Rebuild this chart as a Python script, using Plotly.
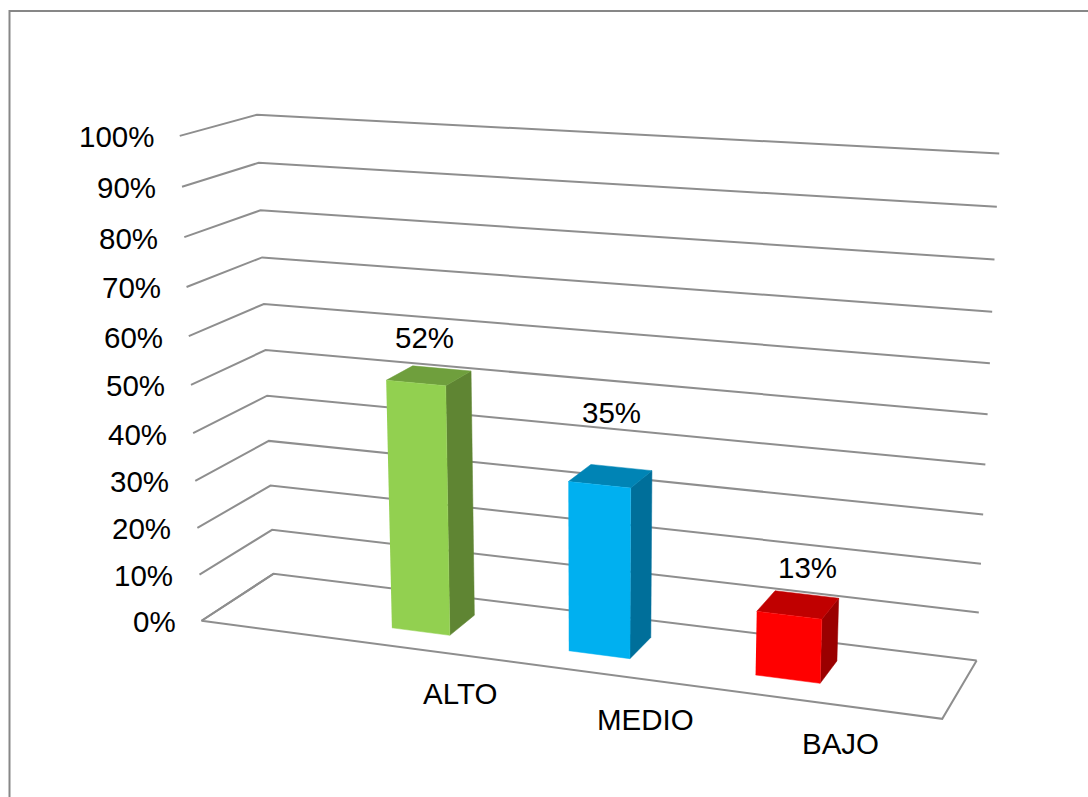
import numpy as np
import plotly.graph_objects as go

# ---- data ----
categories = ["ALTO", "MEDIO", "BAJO"]
values = [0.52, 0.35, 0.13]
tick_values = [0.0, 0.1, 0.2, 0.3, 0.4, 0.5, 0.6, 0.7, 0.8, 0.9, 1.0]
tick_labels = ["0%", "10%", "20%", "30%", "40%", "50%", "60%", "70%", "80%", "90%", "100%"]
value_labels = ["52%", "35%", "13%"]

# ---- styles ----
front_colors = ["#92D050", "#00B0F0", "#FF0000"]
top_colors = ["#6F9F3D", "#0084B5", "#C00000"]
side_colors = ["#5F8533", "#006F9A", "#9A0000"]
GRID = "#8E8E8E"
FONT = dict(family="Liberation Sans, Arial, sans-serif", size=29.5, color="#000000")
label_shift = [(-4, 38), (1.5, 64), (9, 37)]
cat_shift = [(59, -46), (63, -48), (66, -47)]

# ---- 3D scale: category slot / depth / value -> page position ----
CAMERA = np.array([
    [642.108292048515, 88.18578233842008, -31.325797914877715, 201.57136246567904],
    [22.89490052845225, -13.353020550353062, -492.0316523377186, 620.7525907026275],
    [-0.10460126254719346, 0.058738668458344266, -0.0528851509244471, 1.0],
])


def proj(x, y, z):
    h = CAMERA @ np.array([x, y, z, 1.0])
    return h[0] / h[2], h[1] / h[2]


def path(points):
    xy = [proj(*p) for p in points]
    return [a for a, _ in xy], [b for _, b in xy]


fig = go.Figure()


def line(points, color=GRID, width=2, name=""):
    xs, ys = path(points)
    fig.add_trace(go.Scatter(x=xs, y=ys, mode="lines", name=name,
                             line=dict(color=color, width=width), hoverinfo="skip"))


def face(points, color, name):
    xs, ys = path(points)
    fig.add_trace(go.Scatter(x=xs, y=ys, mode="lines", fill="toself", fillcolor=color, name=name,
                             line=dict(color=color, width=0.5), hoverinfo="text",
                             hovertext=name))


# chart border
fig.add_trace(go.Scatter(x=[9.5, 9.5, 1088], y=[797, 11, 11], mode="lines",
                         line=dict(color="#878787", width=2), hoverinfo="skip"))

# walls and floor
for t, lab in zip(tick_values, tick_labels):
    line([(0, 0, t), (0, 1, t), (1, 1, t)], name=lab)
line([(0, 1, 0), (0, 0, 0), (1, 0, 0), (1, 1, 0)], name="floor")

# bars
BAR_W = 1 / 12
D0, D1 = 0.3, 0.7
for i, (cat, v) in enumerate(zip(categories, values)):
    x0 = (i + 1) * 0.25
    x1 = x0 + BAR_W
    name = f"{cat}: {value_labels[i]}"
    face([(x1, D0, 0), (x1, D1, 0), (x1, D1, v), (x1, D0, v)], side_colors[i], name)
    face([(x0, D0, v), (x0, D1, v), (x1, D1, v), (x1, D0, v)], top_colors[i], name)
    face([(x0, D0, 0), (x1, D0, 0), (x1, D0, v), (x0, D0, v)], front_colors[i], name)

annotations = []
for t, lab in zip(tick_values, tick_labels):
    px, py = proj(0, 0, t)
    annotations.append(dict(x=px, y=py, text=lab, xanchor="right", yanchor="middle",
                            xshift=-24, yshift=-1, showarrow=False, font=FONT))
for i, (cat, v) in enumerate(zip(categories, values)):
    xc = (i + 1) * 0.25 + BAR_W / 2
    px, py = proj(xc, 0.5, v)
    annotations.append(dict(x=px, y=py, text=value_labels[i], xshift=label_shift[i][0],
                            yshift=label_shift[i][1], showarrow=False, font=FONT))
    px, py = proj(xc, 0, 0)
    annotations.append(dict(x=px, y=py, text=cat, xshift=cat_shift[i][0],
                            yshift=cat_shift[i][1], showarrow=False, font=FONT))

fig.update_layout(
    width=1088, height=797, margin=dict(l=0, r=0, t=0, b=0),
    paper_bgcolor="#FFFFFF", plot_bgcolor="#FFFFFF", showlegend=False,
    xaxis=dict(range=[0, 1088], visible=False, fixedrange=True),
    yaxis=dict(range=[797, 0], visible=False, fixedrange=True),
    annotations=annotations,
)
fig.write_html("out.html", config=dict(displayModeBar=False),
               post_script="document.body.style.margin='0';document.documentElement.style.overflow='hidden';")
